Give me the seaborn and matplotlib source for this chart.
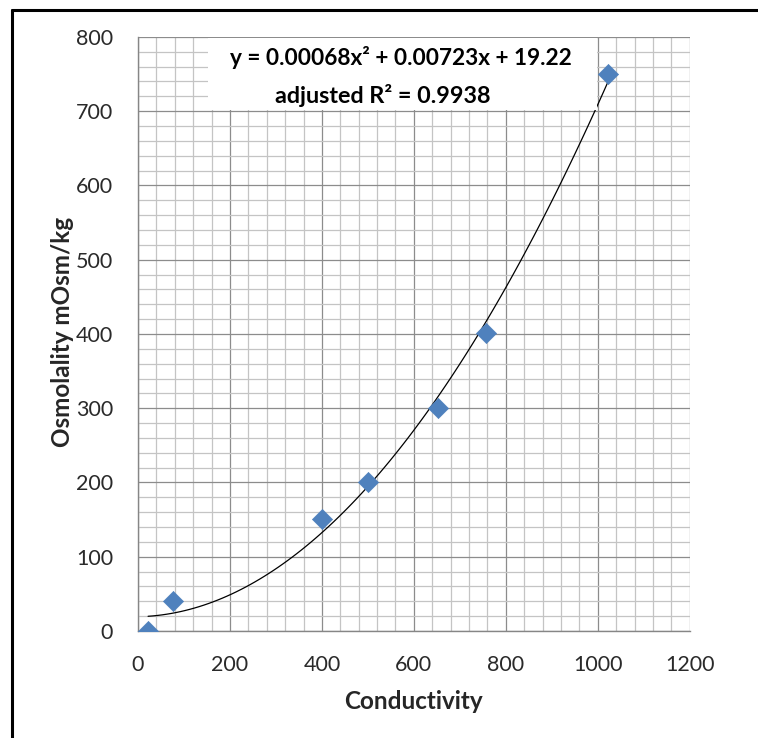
import matplotlib
matplotlib.use("Agg")
import matplotlib.pyplot as plt
from matplotlib.lines import Line2D
from matplotlib.patches import Rectangle
from matplotlib.ticker import MultipleLocator
import seaborn as sns
import pandas as pd

# data
conductivity = [22, 77, 400, 500, 653, 757, 1022]
osmolality = [0, 40, 151, 201, 300, 401, 750]
eq_text = "y = 0.00068x² + 0.00723x + 19.22"
r2_text = "adjusted R² = 0.9938"
xlabel = "Conductivity"
ylabel = "Osmolality mOsm/kg"

df = pd.DataFrame({"Conductivity": conductivity, "Osmolality": osmolality})

sns.set_style("white")
plt.rcParams["font.family"] = ["Lato", "DejaVu Sans"]

fig = plt.figure(figsize=(7.58, 7.38), dpi=100)
ax = fig.add_axes([0.182, 0.145, 0.728, 0.805])

# 二次趋势线
sns.regplot(data=df, x="Conductivity", y="Osmolality", order=2, ci=None,
            scatter=False, ax=ax, line_kws={"color": "black", "lw": 0.9, "zorder": 3})
sns.scatterplot(data=df, x="Conductivity", y="Osmolality", marker="D", s=105,
                color="#4F81BD", edgecolor="#4F81BD", linewidth=0.5, ax=ax, zorder=4)

ax.set_xlim(0, 1200)
ax.set_ylim(0, 800)
ax.xaxis.set_major_locator(MultipleLocator(200))
ax.xaxis.set_minor_locator(MultipleLocator(40))
ax.yaxis.set_major_locator(MultipleLocator(100))
ax.yaxis.set_minor_locator(MultipleLocator(20))
ax.grid(which="major", color="#8c8c8c", lw=0.9)
ax.grid(which="minor", color="#c4c4c4", lw=0.9)
ax.set_axisbelow(True)

for side in ["top", "right"]:
    ax.spines[side].set_visible(False)
for side in ["left", "bottom"]:
    ax.spines[side].set_color("#868686")
    ax.spines[side].set_linewidth(1.0)

ax.tick_params(which="major", direction="out", length=9, width=0.9, color="#868686",
               labelsize=15.5, labelcolor="#2a2a2a", pad=8)
ax.tick_params(which="minor", length=0)
ax.tick_params(axis="y", pad=9)

ax.set_xlabel(xlabel, fontsize=17.5, fontweight="bold", labelpad=11)
ax.set_ylabel("")
fig.text(0.082, 1 - 332 / 738, ylabel, rotation=90, ha="center", va="center",
         fontsize=17.5, fontweight="bold")

# white box behind the equation
ax.add_patch(Rectangle((0.127, 0.877), 0.705, 0.121, transform=ax.transAxes,
                       facecolor="white", edgecolor="none", zorder=5))
ax.text(0.476, 0.966, eq_text, transform=ax.transAxes, ha="center", va="center",
        fontsize=16.3, fontweight="bold", color="black", zorder=6)
ax.text(0.443, 0.902, r2_text, transform=ax.transAxes, ha="center", va="center",
        fontsize=16.8, fontweight="bold", color="black", zorder=6)

# outer frame (only top and left visible in the crop)
fig.add_artist(Line2D([0.016, 1.0], [0.986, 0.986], transform=fig.transFigure,
                      color="black", lw=2.2))
fig.add_artist(Line2D([0.016, 0.016], [0.0, 0.986], transform=fig.transFigure,
                      color="black", lw=2.2))

fig.savefig("out.png", dpi=100)
